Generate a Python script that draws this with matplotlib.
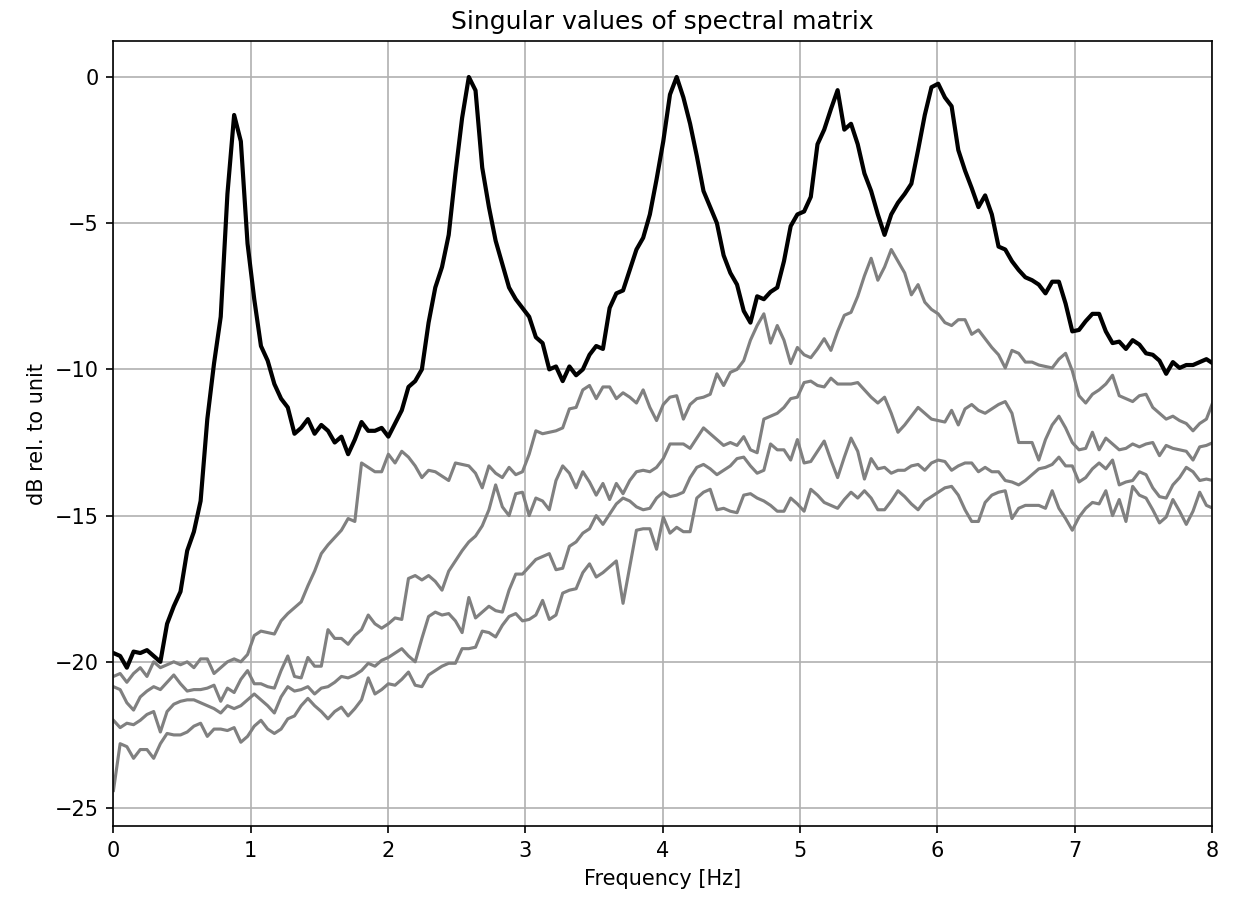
import numpy as np
import matplotlib.pyplot as plt

# frequency resolution of the spectral estimate
df = 50 / 1024

# first singular value (black)
sv1 = [-19.7, -19.8, -20.2, -19.65, -19.7, -19.6, -19.8, -20.0, -18.7, -18.1,
       -17.6, -16.2, -15.55, -14.5, -11.7, -9.8, -8.2, -4.0, -1.3, -2.2,
       -5.7, -7.6, -9.2, -9.7, -10.5, -11.0, -11.3, -12.2, -12.0, -11.7,
       -12.2, -11.9, -12.1, -12.5, -12.3, -12.9, -12.4, -11.8, -12.1, -12.1,
       -12.0, -12.3, -11.85, -11.4, -10.6, -10.4, -10.0, -8.4, -7.2, -6.5,
       -5.4, -3.3, -1.4, 0.0, -0.46, -3.1, -4.45, -5.6, -6.4, -7.2,
       -7.6, -7.9, -8.2, -8.9, -9.1, -10.0, -9.9, -10.4, -9.9, -10.2,
       -10.0, -9.5, -9.2, -9.3, -7.9, -7.4, -7.3, -6.6, -5.9, -5.5,
       -4.7, -3.5, -2.2, -0.6, 0.0, -0.7, -1.6, -2.7, -3.9, -4.45,
       -5.0, -6.1, -6.7, -7.1, -8.0, -8.4, -7.5, -7.6, -7.35, -7.2,
       -6.3, -5.1, -4.7, -4.6, -4.1, -2.3, -1.8, -1.1, -0.45, -1.8,
       -1.6, -2.3, -3.3, -3.9, -4.7, -5.4, -4.7, -4.3, -4.0, -3.65,
       -2.5, -1.3, -0.35, -0.23, -0.7, -1.0, -2.5, -3.2, -3.8, -4.45,
       -4.05, -4.7, -5.8, -5.9, -6.3, -6.6, -6.85, -6.95, -7.1, -7.4,
       -7.0, -7.0, -7.75, -8.7, -8.65, -8.35, -8.1, -8.1, -8.7, -9.1,
       -9.05, -9.3, -9.0, -9.15, -9.45, -9.5, -9.7, -10.15, -9.75, -9.95,
       -9.85, -9.85, -9.75, -9.65, -9.8]

# remaining singular values (grey)
sv2 = [-20.5, -20.4, -20.7, -20.4, -20.2, -20.5, -20.0, -20.2, -20.1, -20.0,
       -20.1, -20.0, -20.2, -19.9, -19.9, -20.4, -20.2, -20.0, -19.9, -20.0,
       -19.75, -19.1, -18.95, -19.0, -19.05, -18.6, -18.35, -18.15, -17.95, -17.4,
       -16.9, -16.3, -16.0, -15.75, -15.5, -15.1, -15.2, -13.2, -13.35, -13.5,
       -13.5, -12.9, -13.2, -12.8, -13.0, -13.3, -13.7, -13.45, -13.5, -13.65,
       -13.8, -13.2, -13.25, -13.3, -13.55, -14.05, -13.3, -13.55, -13.7, -13.35,
       -13.6, -13.5, -12.9, -12.1, -12.2, -12.15, -12.1, -12.0, -11.35, -11.3,
       -10.7, -10.55, -11.0, -10.6, -10.6, -11.0, -10.8, -10.95, -11.15, -10.7,
       -11.3, -11.75, -11.2, -10.95, -10.9, -11.7, -11.2, -11.0, -10.95, -10.85,
       -10.15, -10.55, -10.1, -10.0, -9.7, -9.0, -8.5, -8.1, -9.1, -8.5,
       -9.0, -9.8, -9.25, -9.5, -9.6, -9.3, -8.95, -9.35, -8.7, -8.15,
       -8.05, -7.5, -6.8, -6.2, -6.95, -6.5, -5.9, -6.3, -6.7, -7.45,
       -7.1, -7.7, -7.95, -8.1, -8.4, -8.5, -8.3, -8.3, -8.8, -8.65,
       -8.95, -9.25, -9.5, -9.95, -9.35, -9.45, -9.75, -9.75, -9.85, -9.9,
       -9.95, -9.65, -9.45, -10.05, -10.9, -11.15, -10.85, -10.7, -10.5, -10.2,
       -10.9, -11.0, -11.1, -10.9, -10.85, -11.3, -11.5, -11.7, -11.6, -11.75,
       -11.85, -12.1, -11.85, -11.7, -11.1]

sv3 = [-20.85, -20.95, -21.4, -21.65, -21.2, -21.0, -20.85, -20.95, -20.7, -20.45,
       -20.75, -21.0, -20.95, -20.95, -20.9, -20.8, -21.35, -20.9, -21.05, -20.6,
       -20.3, -20.75, -20.75, -20.85, -20.9, -20.3, -19.8, -20.5, -20.55, -19.85,
       -20.15, -20.15, -18.9, -19.2, -19.2, -19.4, -19.1, -18.9, -18.4, -18.7,
       -18.85, -18.7, -18.5, -18.55, -17.15, -17.05, -17.2, -17.05, -17.25, -17.55,
       -16.9, -16.55, -16.2, -15.9, -15.7, -15.35, -14.8, -13.95, -14.7, -15.0,
       -14.25, -14.2, -15.0, -14.4, -14.5, -14.8, -13.8, -13.3, -13.55, -14.05,
       -13.5, -13.85, -14.3, -13.9, -14.45, -13.9, -14.25, -13.8, -13.5, -13.45,
       -13.5, -13.35, -13.05, -12.55, -12.55, -12.55, -12.7, -12.35, -12.0, -12.2,
       -12.4, -12.6, -12.5, -12.6, -12.3, -12.75, -12.85, -11.7, -11.6, -11.5,
       -11.3, -11.0, -10.95, -10.45, -10.4, -10.55, -10.6, -10.3, -10.5, -10.5,
       -10.5, -10.45, -10.7, -10.95, -11.15, -10.95, -11.5, -12.15, -11.9, -11.6,
       -11.3, -11.5, -11.7, -11.75, -11.8, -11.4, -11.9, -11.35, -11.2, -11.4,
       -11.5, -11.35, -11.2, -11.1, -11.5, -12.5, -12.5, -12.5, -13.1, -12.4,
       -11.9, -11.6, -12.0, -12.5, -12.75, -12.7, -12.15, -12.75, -12.35, -12.55,
       -12.75, -12.7, -12.55, -12.65, -12.55, -12.5, -12.95, -12.6, -12.7, -12.75,
       -12.8, -13.1, -12.65, -12.6, -12.5]

sv4 = [-22.0, -22.25, -22.1, -22.15, -22.0, -21.8, -21.7, -22.4, -21.7, -21.45,
       -21.35, -21.3, -21.3, -21.4, -21.5, -21.6, -21.75, -21.5, -21.6, -21.5,
       -21.3, -21.1, -21.3, -21.5, -21.75, -21.2, -20.85, -21.0, -20.95, -20.85,
       -21.1, -20.9, -20.85, -20.7, -20.5, -20.55, -20.45, -20.3, -20.05, -20.15,
       -19.95, -19.85, -19.7, -19.55, -19.8, -20.0, -19.2, -18.45, -18.3, -18.4,
       -18.35, -18.6, -19.0, -17.8, -18.5, -18.3, -18.1, -18.25, -18.3, -17.55,
       -17.0, -17.0, -16.75, -16.5, -16.4, -16.3, -16.85, -16.8, -16.05, -15.9,
       -15.6, -15.45, -15.0, -15.3, -14.95, -14.6, -14.4, -14.5, -14.7, -14.8,
       -14.75, -14.4, -14.2, -14.35, -14.3, -14.2, -13.7, -13.35, -13.25, -13.4,
       -13.6, -13.45, -13.3, -13.05, -13.0, -13.3, -13.55, -13.45, -12.55, -12.75,
       -12.75, -13.1, -12.4, -13.2, -13.15, -12.8, -12.45, -13.1, -13.7, -13.0,
       -12.35, -12.8, -13.75, -13.05, -13.4, -13.35, -13.55, -13.45, -13.45, -13.3,
       -13.25, -13.45, -13.2, -13.1, -13.15, -13.45, -13.3, -13.2, -13.2, -13.5,
       -13.35, -13.5, -13.5, -13.8, -13.85, -13.95, -13.8, -13.6, -13.4, -13.35,
       -13.25, -13.0, -13.3, -13.3, -13.85, -13.7, -13.4, -13.2, -13.4, -13.1,
       -13.95, -13.85, -13.8, -13.5, -13.6, -14.05, -14.35, -14.4, -13.95, -13.7,
       -13.35, -13.5, -13.8, -13.75, -13.8]

sv5 = [-24.4, -22.8, -22.9, -23.3, -23.0, -23.0, -23.3, -22.8, -22.45, -22.5,
       -22.5, -22.4, -22.2, -22.1, -22.55, -22.3, -22.3, -22.35, -22.25, -22.75,
       -22.55, -22.2, -22.0, -22.3, -22.45, -22.3, -21.95, -21.85, -21.5, -21.25,
       -21.5, -21.7, -21.95, -21.7, -21.55, -21.85, -21.6, -21.3, -20.55, -21.1,
       -20.95, -20.75, -20.8, -20.6, -20.35, -20.8, -20.85, -20.45, -20.3, -20.15,
       -20.05, -20.05, -19.55, -19.55, -19.5, -18.95, -19.0, -19.15, -18.75, -18.45,
       -18.35, -18.6, -18.55, -18.4, -17.9, -18.55, -18.4, -17.65, -17.55, -17.5,
       -16.95, -16.65, -17.1, -16.95, -16.75, -16.55, -18.0, -16.75, -15.5, -15.45,
       -15.45, -16.15, -15.05, -15.6, -15.4, -15.55, -15.55, -14.4, -14.2, -14.1,
       -14.8, -14.75, -14.85, -14.9, -14.3, -14.25, -14.4, -14.5, -14.65, -14.85,
       -14.85, -14.4, -14.6, -14.85, -14.1, -14.3, -14.55, -14.65, -14.75, -14.45,
       -14.2, -14.4, -14.15, -14.4, -14.8, -14.8, -14.5, -14.15, -14.35, -14.6,
       -14.8, -14.5, -14.35, -14.2, -14.05, -14.0, -14.3, -14.8, -15.2, -15.2,
       -14.55, -14.3, -14.2, -14.15, -15.1, -14.75, -14.65, -14.65, -14.65, -14.75,
       -14.15, -14.75, -15.1, -15.5, -15.05, -14.75, -14.55, -14.6, -14.15, -15.0,
       -14.45, -15.2, -14.0, -14.3, -14.4, -14.8, -15.25, -15.05, -14.45, -14.85,
       -15.3, -14.85, -14.2, -14.65, -14.75]


def freqs(vals):
    return np.arange(len(vals)) * df


fig, ax = plt.subplots(figsize=(1233 / 150, 898 / 150), dpi=150)

for sv in [sv2, sv3, sv4, sv5]:
    ax.plot(freqs(sv), sv, color='gray', lw=1.5)
ax.plot(freqs(sv1), sv1, color='k', lw=2)

ax.set_xlim(0, 8)
ax.grid(True)
ax.set_title('Singular values of spectral matrix')
ax.set_xlabel('Frequency [Hz]')
ax.set_ylabel('dB rel. to unit')

fig.subplots_adjust(left=0.092, right=0.983, top=0.954, bottom=0.080)
fig.savefig('out.png', dpi=150)
